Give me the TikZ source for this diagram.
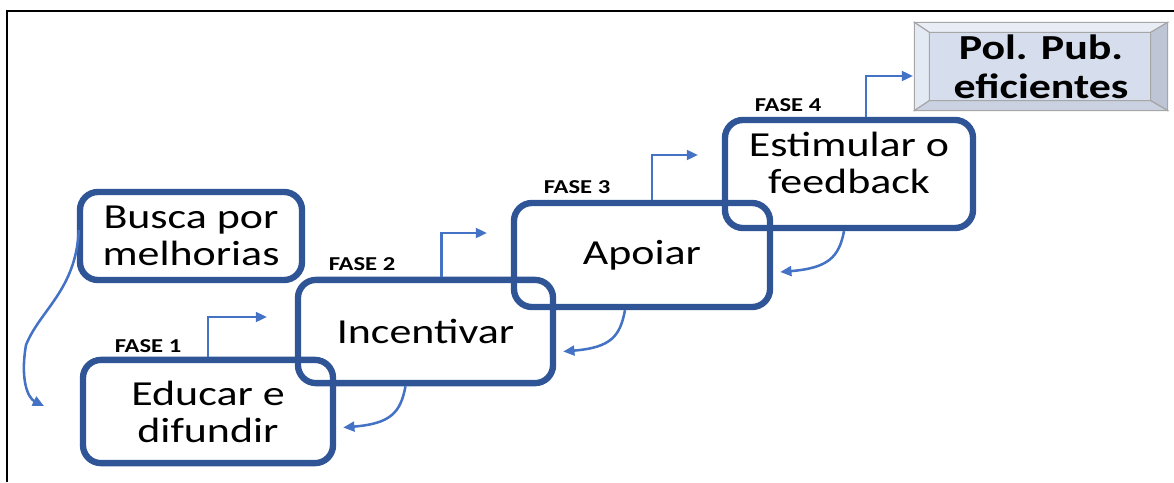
\documentclass[tikz,border=0pt]{standalone}
\usepackage{fontspec}
\setmainfont{Carlito}[FakeStretch=1.25]
\usetikzlibrary{shapes,arrows.meta,calc}
\definecolor{boxblue}{RGB}{47,85,151}
\definecolor{arrowblue}{RGB}{68,114,196}
\definecolor{polfill}{RGB}{214,222,237}
\definecolor{poltop}{RGB}{232,237,246}
\definecolor{polside}{RGB}{190,198,214}
\definecolor{polbot}{RGB}{202,210,225}
\tikzset{
	fase/.style={draw=boxblue, line width=4.5pt, rounded corners=0.45cm, align=center,
		inner sep=0pt, font=\fontsize{25}{26.3}\selectfont},
	fasetag/.style={font=\fontsize{14}{16}\selectfont\bfseries},
	stepto/.style={draw=arrowblue, line width=1.8pt, -{Triangle[length=8pt,width=7pt]}},
	backto/.style={stepto},
	bevel/.style={draw=gray!70, line width=0.8pt}
}
\begin{document}
\begin{tikzpicture}[x=0.025cm, y=-0.025cm]
	\useasboundingbox (0,0) rectangle (1174,482);
	\draw [line width=2pt] (7,482) -- (7,11) -- (1174,11);
	% phases
	\node [fase, minimum width=6.25cm, minimum height=2.58cm] (f1) at (208,411.5) {Educar e\\difundir};
	\node [fase, minimum width=6.375cm, minimum height=2.58cm] (f2) at (425.5,331.5) {Incentivar};
	\node [fase, minimum width=6.4cm, minimum height=2.6cm] (f3) at (642,255) {Apoiar};
	\node [fase, minimum width=6.2cm, minimum height=2.7cm] (f4) at (849,174) {};
	\node [font=\fontsize{25}{26.3}\selectfont, align=center] (f4text) at (849,163) {Estimular o\\feedback};
	\node [fase, minimum width=5.55cm, minimum height=2.2cm] (busca) at (191,236) {Busca por\\melhorias};
	\node [fasetag] (t1) at (148,346) {FASE 1};
	\node [fasetag] (t2) at (362,264) {FASE 2};
	\node [fasetag] (t3) at (577,187) {FASE 3};
	\node [fasetag] (t4) at (788,105) {FASE 4};
	% result box
	\node [bevel, fill=polfill, minimum width=6.3cm, minimum height=2.175cm, align=center,
		font=\fontsize{25}{28}\selectfont\bfseries] (pol) at (1041,66.5) {Pol. Pub.\\eficientes};
	\coordinate (inw) at ($(pol.north west)+(15,10)$);
	\coordinate (ine) at ($(pol.north east)+(-17,10)$);
	\coordinate (ise) at ($(pol.south east)+(-17,-10)$);
	\coordinate (isw) at ($(pol.south west)+(15,-10)$);
	\draw [bevel, fill=poltop] (pol.north west) -- (pol.north east) -- (ine) -- (inw) -- cycle;
	\draw [bevel, fill=poltop!80!polfill] (pol.north west) -- (inw) -- (isw) -- (pol.south west) -- cycle;
	\draw [bevel, fill=polside] (pol.north east) -- (pol.south east) -- (ise) -- (ine) -- cycle;
	\draw [bevel, fill=polbot] (pol.south west) -- (isw) -- (ise) -- (pol.south east) -- cycle;
	% step arrows
	\coordinate (s1) at (267,317);
	\coordinate (s2) at (487,233);
	\coordinate (s3) at (698,155);
	\coordinate (s4) at (913,76);
	\draw [stepto] (f1.north) |- (s1);
	\draw [stepto] ($(f2.north)+(16,0)$) |- (s2);
	\draw [stepto] ($(f3.north)+(10,0)$) |- (s3);
	\draw [stepto] ($(f4.north)+(17,0)$) |- (s4);
	% feedback arrows
	\draw [backto] ($(f4.south)+(-5,0)$) .. controls +(-5,26) and +(48,-4) .. ($(f3.east)+(7,17)$);
	\draw [backto] ($(f3.south)+(-17,0)$) .. controls +(-5,26) and +(48,-4) .. ($(f2.east)+(7,20)$);
	\draw [backto] ($(f2.south)+(-20,0)$) .. controls +(-5,26) and +(48,-4) .. ($(f1.east)+(7,16)$);
	\coordinate (btip) at (44,406);
	\draw [backto] ($(busca.west)+(2,-6)$) .. controls (76,290) and (40,310) .. (26,345)
		.. controls (20,380) and (28,398) .. (btip);
\end{tikzpicture}
\end{document}
